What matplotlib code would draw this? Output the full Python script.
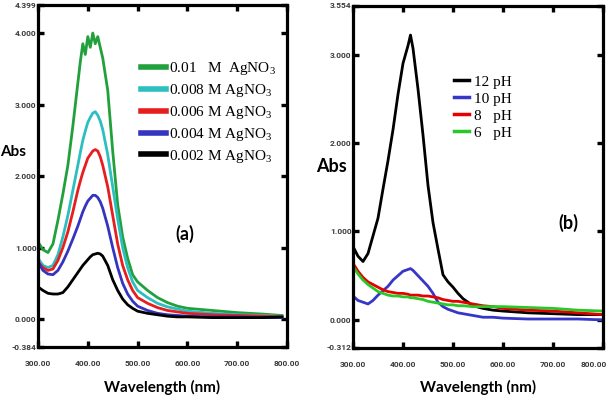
import matplotlib
matplotlib.use("Agg")
import matplotlib.pyplot as plt
from matplotlib.transforms import ScaledTranslation
import numpy as np

plt.rcParams['mathtext.fontset'] = 'custom'
plt.rcParams['mathtext.rm'] = 'Liberation Serif'

# ---------------- data: panel (a) ----------------
wl_a = [300, 310, 320, 330, 340, 350, 360, 370, 380, 385, 390, 395, 400, 405, 410, 415, 420, 425,
        430, 440, 450, 460, 470, 480, 490, 500, 520, 540, 560, 580, 600, 650, 700, 750, 790]
ag_010 = [1.08, 0.97, 0.93, 1.05, 1.38, 1.75, 2.15, 2.7, 3.3, 3.6, 3.85, 3.7, 3.95, 3.8, 4.0, 3.85, 3.95, 3.8,
          3.65, 3.2, 2.35, 1.6, 1.15, 0.85, 0.62, 0.52, 0.4, 0.3, 0.23, 0.18, 0.15, 0.12, 0.09, 0.07, 0.05]
ag_008 = [0.85, 0.75, 0.72, 0.75, 0.9, 1.15, 1.45, 1.8, 2.15, 2.33, 2.5, 2.63, 2.75, 2.82, 2.88, 2.9, 2.85, 2.77,
          2.65, 2.3, 1.85, 1.4, 1.0, 0.72, 0.52, 0.4, 0.3, 0.22, 0.17, 0.14, 0.11, 0.08, 0.06, 0.05, 0.04]
ag_006 = [0.8, 0.72, 0.68, 0.7, 0.82, 1.0, 1.22, 1.5, 1.8, 1.93, 2.05, 2.15, 2.25, 2.3, 2.35, 2.37, 2.35, 2.27,
          2.15, 1.85, 1.45, 1.05, 0.75, 0.55, 0.4, 0.3, 0.22, 0.16, 0.12, 0.1, 0.08, 0.06, 0.05, 0.04, 0.03]
ag_004 = [0.8, 0.68, 0.63, 0.62, 0.68, 0.8, 0.95, 1.12, 1.3, 1.4, 1.5, 1.58, 1.65, 1.69, 1.73, 1.73, 1.7, 1.64,
          1.55, 1.3, 1.0, 0.72, 0.5, 0.35, 0.25, 0.18, 0.12, 0.08, 0.06, 0.05, 0.04, 0.03, 0.03, 0.02, 0.02]
ag_002 = [0.45, 0.4, 0.36, 0.35, 0.35, 0.37, 0.45, 0.55, 0.65, 0.7, 0.75, 0.79, 0.83, 0.87, 0.9, 0.91, 0.92, 0.91,
          0.88, 0.75, 0.55, 0.4, 0.28, 0.2, 0.15, 0.11, 0.08, 0.06, 0.04, 0.03, 0.03, 0.02, 0.02, 0.02, 0.03]
labels_a = ["0.01   M  AgNO$\\mathregular{_3}$", "0.008 M AgNO$\\mathregular{_3}$",
            "0.006 M AgNO$\\mathregular{_3}$", "0.004 M AgNO$\\mathregular{_3}$",
            "0.002 M AgNO$\\mathregular{_3}$"]
colors_a = ["#22a03c", "#2bbfbf", "#e61e1e", "#3434c0", "#000000"]
yticks_a = [-0.384, 0.0, 1.0, 2.0, 3.0, 4.0, 4.399]

# ---------------- data: panel (b) ----------------
wl_b = [300, 310, 320, 330, 340, 350, 360, 370, 380, 390, 400, 410, 415, 420, 430, 440, 450, 460,
        470, 480, 490, 500, 510, 520, 540, 560, 580, 600, 650, 700, 750, 800]
ph12 = [0.83, 0.72, 0.66, 0.75, 0.95, 1.15, 1.48, 1.8, 2.15, 2.55, 2.9, 3.1, 3.22, 3.07, 2.61, 2.09, 1.52, 1.1,
        0.8, 0.51, 0.43, 0.37, 0.3, 0.24, 0.16, 0.13, 0.11, 0.1, 0.08, 0.07, 0.06, 0.06]
ph10 = [0.27, 0.22, 0.2, 0.18, 0.22, 0.28, 0.33, 0.38, 0.45, 0.5, 0.55, 0.57, 0.58, 0.56, 0.5, 0.44, 0.38, 0.3,
        0.2, 0.15, 0.12, 0.1, 0.08, 0.07, 0.05, 0.03, 0.03, 0.02, 0.01, 0.01, 0.01, 0.0]
ph8 = [0.64, 0.55, 0.48, 0.43, 0.4, 0.37, 0.34, 0.32, 0.31, 0.3, 0.3, 0.29, 0.28, 0.28, 0.28, 0.27, 0.27, 0.26,
       0.25, 0.23, 0.22, 0.21, 0.21, 0.2, 0.18, 0.16, 0.15, 0.13, 0.11, 0.1, 0.08, 0.06]
ph6 = [0.6, 0.52, 0.45, 0.4, 0.36, 0.32, 0.3, 0.28, 0.27, 0.27, 0.26, 0.26, 0.25, 0.25, 0.24, 0.23, 0.21, 0.2,
       0.19, 0.18, 0.17, 0.17, 0.16, 0.16, 0.15, 0.15, 0.15, 0.15, 0.14, 0.13, 0.11, 0.1]
labels_b = ["12 pH", "10 pH", "8   pH", "6   pH"]
colors_b = ["#000000", "#3636c8", "#e60000", "#28c828"]
yticks_b = [-0.312, 0.0, 1.0, 2.0, 3.0, 3.554]

xticks = [300, 400, 500, 600, 700, 800]
xticklabels = ["300.00", "400.00", "500.00", "600.00", "700.00", "800.00"]

W, H = 614, 404
fig = plt.figure(figsize=(W / 100, H / 100), dpi=100)


def px_axes(l, t, r, b):
    return fig.add_axes([l / W, 1 - b / H, (r - l) / W, (b - t) / H])


def style(ax, ylim, yticks):
    ax.set_xlim(300, 800)
    ax.set_ylim(*ylim)
    for s in ax.spines.values():
        s.set_linewidth(2.3)
    ax.set_xticks(xticks)
    ax.set_xticklabels(xticklabels)
    ax.set_yticks(yticks)
    ax.set_yticklabels(["%.3f" % v for v in yticks])
    ax.tick_params(direction='in', length=4, width=2.4, top=True, right=True,
                   labelsize=6, labelcolor='#3a3a3a')
    ax.tick_params(axis='x', pad=10)
    ax.tick_params(axis='y', pad=1)
    for lab in ax.get_xticklabels() + ax.get_yticklabels():
        lab.set_fontfamily('Roboto')
        lab.set_fontweight('bold')


# panel (a)
ax1 = px_axes(38, 4.5, 287, 346.5)
series_a = [ag_010, ag_008, ag_006, ag_004, ag_002]
for ys, c, lab in zip(series_a, colors_a, labels_a):
    ax1.plot(wl_a, ys, color=c, lw=2.0, label=lab)
style(ax1, (-0.384, 4.399), yticks_a)
leg = ax1.legend(loc='upper left', bbox_to_anchor=(0.39, 0.855), frameon=False,
                 prop={'family': 'Liberation Serif', 'size': 11},
                 handlelength=1.6, handletextpad=0.2, labelspacing=0.32, borderaxespad=0)
for h in leg.get_lines():
    h.set_linewidth(4)
ax1.text(0.59, 0.33, "(a)", transform=ax1.transAxes, fontsize=13, fontweight='bold',
         family='Lato', ha='center', va='center')

# panel (b)
ax2 = px_axes(353, 5.5, 603, 347.5)
series_b = [ph12, ph10, ph8, ph6]
for ys, c, lab in zip(series_b, colors_b, labels_b):
    ax2.plot(wl_b, ys, color=c, lw=2.0, label=lab)
style(ax2, (-0.312, 3.554), yticks_b)
last = ax2.get_xticklabels()[-1]
last.set_transform(last.get_transform() + ScaledTranslation(-7 / 72, 0, fig.dpi_scale_trans))
leg2 = ax2.legend(loc='upper left', bbox_to_anchor=(0.38, 0.815), frameon=False,
                  prop={'family': 'Liberation Serif', 'size': 11},
                  handlelength=1.0, handletextpad=0.3, labelspacing=0.22, borderaxespad=0)
for h in leg2.get_lines():
    h.set_linewidth(2.5)
ax2.text(0.86, 0.365, "(b)", transform=ax2.transAxes, fontsize=13, fontweight='bold',
         family='Lato', ha='center', va='center')

# axis labels
fig.text(13 / W, 1 - 152 / H, "Abs", family='Lato', fontweight='bold', fontsize=11,
         ha='center', va='center')
fig.text(331 / W, 1 - 167 / H, "Abs", family='Lato', fontweight='bold', fontsize=13,
         ha='center', va='center')
for x in [(38 + 287) / 2 / W, (353 + 603) / 2 / W]:
    fig.text(x, 1 - 387 / H, "Wavelength (nm)", family='Lato', fontweight='bold', fontsize=11,
             ha='center', va='center')

fig.savefig("out.png", dpi=100)
